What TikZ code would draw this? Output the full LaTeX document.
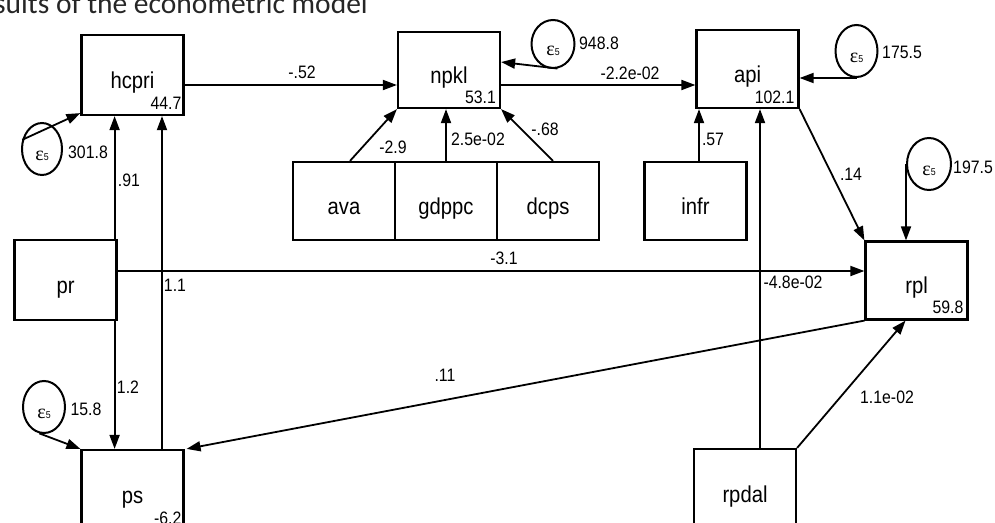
\documentclass[tikz,border=0pt]{standalone}
\usepackage{fontspec}
\setmainfont{Liberation Sans}[FakeStretch=0.88]
\newfontfamily\titlefont{Carlito}
\newfontfamily\epsfont{Liberation Serif}
\usetikzlibrary{arrows.meta, shapes.geometric, calc}
\newcommand{\epsfive}{{\epsfont\fontsize{20}{20}\selectfont ε}{\fontsize{10}{10}\selectfont 5}}

\begin{document}
\begin{tikzpicture}[x=1pt, y=-1pt, >={Triangle[length=14pt, width=10pt]},
  var/.style={draw, line width=2.2pt, minimum width=102pt, minimum height=78pt, inner sep=0pt,
              text height=26pt, text depth=0pt, font=\fontsize{23}{23}\selectfont},
  cons/.style={anchor=base east, inner sep=0pt, font=\fontsize{18}{18}\selectfont},
  err/.style={draw, ellipse, line width=2pt, minimum width=42pt, minimum height=52pt, inner sep=0pt,
              text height=22pt, text depth=0pt},
  coef/.style={inner sep=0pt, font=\fontsize{18}{18}\selectfont},
  link/.style={->, line width=1.8pt}]
  \useasboundingbox (0,0) rectangle (995,522);
  \clip (0,0) rectangle (995,522);
  \node[anchor=base east, inner sep=0pt, font=\titlefont\fontsize{29.5}{29.5}\selectfont, text=black!85]
    (title) at (368,13) {sults of the econometric model};
  \node[var, minimum height=80pt] (hcpri) at (132.5,75) {hcpri};
  \node[var, minimum height=76pt] (npkl) at (449,70) {npkl};
  \node[var] (api) at (747.5,69) {api};
  \node[var] (ava) at (344,201) {ava};
  \node[var] (gdppc) at (446,201) {gdppc};
  \node[var] (dcps) at (548,201) {dcps};
  \node[var] (infr) at (695.5,201) {infr};
  \node[var, minimum height=80pt] (pr) at (65.5,280) {pr};
  \node[var] (rpl) at (916.5,280.5) {rpl};
  \node[var, minimum height=80pt] (ps) at (132.5,490) {ps};
  \node[var, minimum height=80pt] (rpdal) at (745,489) {rpdal};
  \node[cons] (k-hcpri) at ([xshift=-3pt, yshift=7pt]hcpri.south east) {44.7};
  \node[cons] (k-npkl) at ([xshift=-5pt, yshift=6pt]npkl.south east) {53.1};
  \node[cons] (k-api) at ([xshift=-5pt, yshift=6pt]api.south east) {102.1};
  \node[cons] (k-rpl) at ([xshift=-5pt, yshift=7pt]rpl.south east) {59.8};
  \node[cons] (k-ps) at ([xshift=-3pt, yshift=7pt]ps.south east) {-6.2};
  \node[err, minimum width=40pt] (e1) at (42,149) {\epsfive};
  \node[err, minimum width=43pt, minimum height=48pt] (e2) at (553,44) {\epsfive};
  \node[err] (e3) at (856.5,51) {\epsfive};
  \node[err, minimum width=44pt] (e4) at (929,164) {\epsfive};
  \node[err] (e5) at (44,407) {\epsfive};
  \node[coef] (v-e1) at (88,152) {301.8};
  \node[coef] (v-e2) at (599,43) {948.8};
  \node[coef] (v-e3) at (902,52) {175.5};
  \node[coef] (v-e4) at (973,167) {197.5};
  \node[coef] (v-e5) at (86,409) {15.8};
  \draw[link] ([yshift=-10pt]hcpri.east) coordinate (hn) -- (hn -| npkl.west);
  \draw[link] ([yshift=-15pt]npkl.east) coordinate (na) -- (na -| api.west);
  \draw[link] ([xshift=6pt]ava.north) -- (npkl.south west);
  \draw[link] (gdppc.north) -- ([xshift=-3pt]npkl.south);
  \draw[link] ([xshift=5pt]dcps.north) -- (npkl.south east);
  \draw[link] (e2.-80) -- ([yshift=8pt]npkl.east);
  \draw[link] ([xshift=3.5pt]infr.north) coordinate (ia) -- (ia |- api.south);
  \draw[link] (e3.south) -- (e3.south -| api.east);
  \draw[link] ([xshift=15pt]rpdal.north) coordinate (ra) -- (ra |- api.south);
  \draw[link] (api.south east) -- (rpl.north west);
  \draw[link] (e4.west) -- (e4.west |- rpl.north);
  \draw[link] ([yshift=9pt]pr.east) coordinate (pq) -- (pq -| rpl.west);
  \draw[link] ([xshift=-3pt]pr.north east) coordinate (ph) -- (ph |- hcpri.south);
  \draw[link] ([xshift=-3pt]pr.south east) coordinate (pp) -- (pp |- ps.north);
  \draw[link] ([xshift=29.5pt]ps.north) coordinate (sh) -- (sh |- hcpri.south);
  \draw[link] (rpl.south west) -- ([xshift=2pt]ps.north east);
  \draw[link] (rpdal.north east) -- ([xshift=-11pt]rpl.south);
  \draw[link] (e1.155) -- ([yshift=3pt]hcpri.south west);
  \draw[link] (e5.-100) -- (ps.north west);
  \node[coef] (c-hcpri-npkl) at (302,72) {-.52};
  \node[coef] (c-npkl-api) at (630,73) {-2.2e-02};
  \node[coef] (c-ava-npkl) at (393,147) {-2.9};
  \node[coef] (c-gdppc-npkl) at (478,139) {2.5e-02};
  \node[coef] (c-dcps-npkl) at (545,129) {-.68};
  \node[coef] (c-infr-api) at (713,139) {.57};
  \node[coef] (c-api-rpl) at (851,174) {.14};
  \node[coef] (c-pr-hcpri) at (129,180) {.91};
  \node[coef] (c-ps-hcpri) at (175,285) {1.1};
  \node[coef] (c-pr-rpl) at (504,258) {-3.1};
  \node[coef] (c-rpdal-api) at (793,282) {-4.8e-02};
  \node[coef] (c-pr-ps) at (128,387) {1.2};
  \node[coef] (c-rpl-ps) at (445,375) {.11};
  \node[coef] (c-rpdal-rpl) at (887,397) {1.1e-02};
\end{tikzpicture}
\end{document}
